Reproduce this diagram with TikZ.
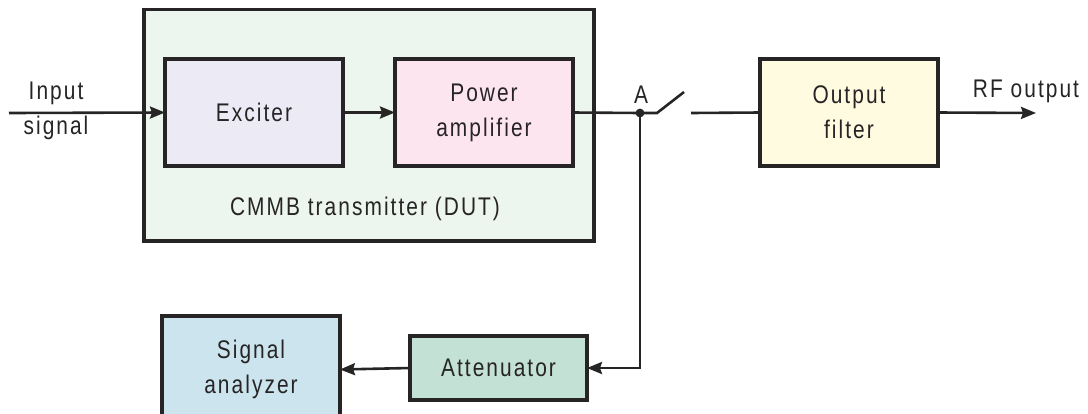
\documentclass[tikz,border=0pt]{standalone}
\usepackage{fontspec}
\setmainfont{Liberation Sans}[FakeStretch=0.82,LetterSpace=8]
\usetikzlibrary{arrows.meta}
\definecolor{ink}{HTML}{262425}
\definecolor{txfill}{HTML}{EDF6EE}
\definecolor{excfill}{HTML}{ECEAF5}
\definecolor{pafill}{HTML}{FCE5EF}
\definecolor{offill}{HTML}{FFFBE1}
\definecolor{attfill}{HTML}{C4E1D6}
\definecolor{safill}{HTML}{CCE4EE}
\begin{document}
\begin{tikzpicture}[x=1pt,y=-1pt,
  every node/.style={text=ink,font=\fontsize{25.5}{35}\selectfont,inner sep=0pt,outer sep=0pt},
  blk/.style={draw=ink,line width=3.2pt,align=center,minimum width=178pt,minimum height=107pt},
  wire/.style={draw=ink,line width=2.6pt},
  arr/.style={wire,-{Stealth[length=15pt,width=12pt,inset=2pt]}},
  lbl/.style={align=center}]
\useasboundingbox (0,0) rectangle (1088,413);
% transmitter enclosure
\node[draw=ink,line width=3.2pt,fill=txfill,minimum width=450pt,minimum height=231.5pt] (tx) at (369,125.25) {};
\node[lbl] (txlabel) at (365,209) {CMMB transmitter (DUT)};
% blocks
\node[blk,fill=excfill] (exc) at (254,112.5) {Exciter};
\node[blk,fill=pafill] (pa) at (484,112.5) {Power\\amplifier};
\node[blk,fill=offill] (of) at (849,112.5) {Output\\filter};
\node[blk,fill=attfill,minimum width=177pt,minimum height=64pt] (att) at (498.5,368) {Attenuator};
\node[blk,fill=safill] (sa) at (251,369.5) {Signal\\analyzer};
% labels
\node[lbl] (inlabel) at (56,111) {Input\\signal};
\node[lbl] (rflabel) at (1026,91) {RF output};
\node[lbl] (alabel) at (641,95) {A};
% coordinates
\coordinate (in) at (9,113);
\coordinate (junc) at (640,113);
\coordinate (sw1) at (657,113);
\coordinate (sw2) at (684,92);
\coordinate (sw3) at (691,113);
\coordinate (rfout) at (1036,113);
\coordinate (down) at (640,368);
% connectors
\draw[arr] (in) -- (exc.west);
\draw[arr] (exc.east) -- (pa.west);
\draw[wire] (pa.east) -- (junc) -- (sw1) -- (sw2);
\draw[wire] (sw3) -- (of.west);
\draw[arr] (of.east) -- (rfout);
\draw[arr] (junc) -- (down) -- (att.east);
\draw[arr] (att.west) -- (sa.east);
\fill[ink] (junc) circle (4.4pt);
\end{tikzpicture}
\end{document}
